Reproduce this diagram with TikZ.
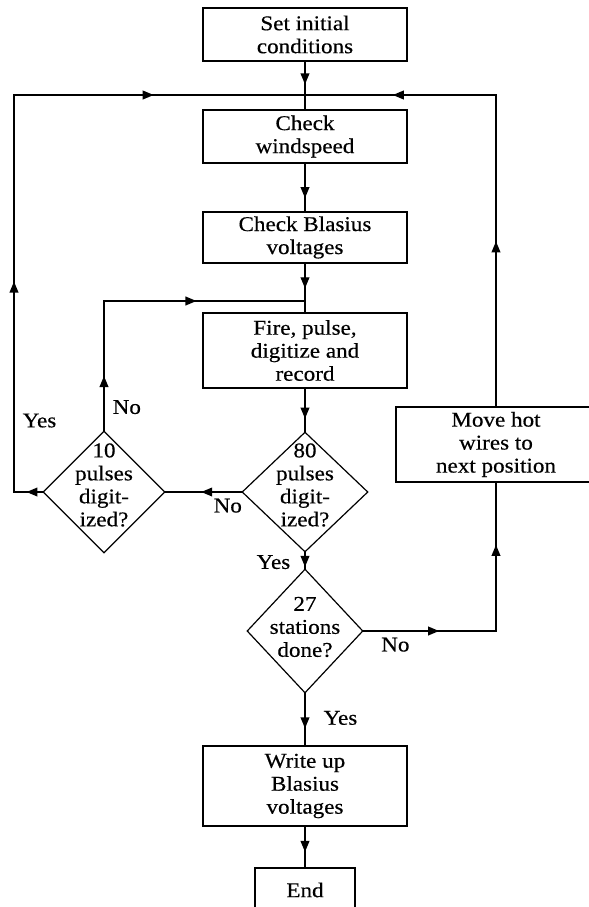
\documentclass[tikz,border=0pt]{standalone}
\usepackage{fontspec}
\setmainfont{Liberation Serif}[FakeStretch=1.1, FakeBold=0.4]
\usetikzlibrary{
    shapes.geometric,
    arrows.meta,
    decorations.markings,
    positioning
}
\tikzset{
    box/.style={draw, line width=0.6pt, minimum width=102pt, align=center, inner sep=2pt},
    decision/.style={draw, diamond, line width=0.6pt, inner sep=0pt},
    dtext/.style={align=center, inner sep=0pt},
    line/.style={line width=0.7pt, line cap=rect},
    arrowat/.style={line, decoration={markings,
        mark=at position #1 with {\arrow{Triangle[length=5.5pt, width=4.4pt]}}},
        postaction={decorate}},
    lbl/.style={inner sep=1pt}
}

\begin{document}
\begin{tikzpicture}[x=0.5pt, y=-0.5pt, font=\fontsize{10.5}{11.5}\selectfont]
    \useasboundingbox (0, 0) rectangle (589, 907);
    \clip (0, 0) rectangle (589, 907);

    \node[box, minimum height=26.5pt] (init) at (305, 34.5) {Set initial\\conditions};
    \node[box, minimum height=26.5pt] (wind) at (305, 136.5) {Check\\windspeed};
    \node[box, minimum height=25.5pt] (blas) at (305, 237.5) {Check Blasius\\voltages};
    \node[box, minimum height=37.5pt] (fire) at (305, 350.5) {Fire, pulse,\\digitize and\\record};
    \node[decision, minimum width=63pt, minimum height=60pt] (d80) at (305, 492) {};
    \node[dtext] (t80) at (305, 485) {80\\pulses\\digit-\\ized?};
    \node[decision, minimum width=61pt, minimum height=61pt] (d10) at (104, 492) {};
    \node[dtext] (t10) at (104, 485) {10\\pulses\\digit-\\ized?};
    \node[decision, minimum width=58pt, minimum height=62pt] (d27) at (305, 631) {};
    \node[dtext] (t27) at (305, 627) {27\\stations\\done?};
    \node[box, minimum height=40pt] (write) at (305, 786) {Write up\\Blasius\\voltages};
    \node[box, minimum width=50pt, minimum height=22pt] (end) at (305, 890) {End};
    \node[box, minimum width=100pt, minimum height=37.5pt] (move) at (496, 444.5) {Move hot\\wires to\\next position};

    \coordinate (jt) at (305, 95);
    \coordinate (jm) at (305, 301);
    \coordinate (ltop) at (14, 95);
    \coordinate (lbot) at (14, 492);
    \coordinate (ntop) at (104, 301);
    \coordinate (rtop) at (496, 95);
    \coordinate (rbot) at (496, 631);

    % main column
    \draw[arrowat=0.68] (init) -- (jt);
    \draw[line] (jt) -- (wind);
    \draw[arrowat=0.72] (wind) -- (blas);
    \draw[arrowat=0.66] (blas) -- (jm);
    \draw[line] (jm) -- (fire);
    \draw[arrowat=0.7] (fire) -- (d80);
    \draw[arrowat=0.9] (d80) -- node[lbl, pos=0.6, left=6pt] (yes2) {Yes} (d27);
    \draw[arrowat=0.67] (d27) -- node[lbl, pos=0.47, right=8pt] (yes3) {Yes} (write);
    \draw[arrowat=0.62] (write) -- (end);

    % pulse loops
    \draw[arrowat=0.53] (d80) -- node[lbl, pos=0.18, below=2pt] (no1) {No} (d10);
    \draw[arrowat=0.42] (d10) -- node[lbl, pos=0.18, right=3pt] (no2) {No} (ntop);
    \draw[arrowat=0.46] (ntop) -- (jm);
    \draw[arrowat=0.56] (d10) -- (lbot);
    \draw[arrowat=0.53] (lbot) -- node[lbl, pos=0.18, right=3pt] (yes1) {Yes} (ltop);
    \draw[arrowat=0.48] (ltop) -- (jt);

    % station loop
    \draw[arrowat=0.57] (d27) -- node[lbl, pos=0.24, below=2pt] (no3) {No} (rbot);
    \draw[arrowat=0.58] (rbot) -- (move);
    \draw[arrowat=0.53] (move) -- (rtop);
    \draw[arrowat=0.54] (rtop) -- (jt);
\end{tikzpicture}
\end{document}
